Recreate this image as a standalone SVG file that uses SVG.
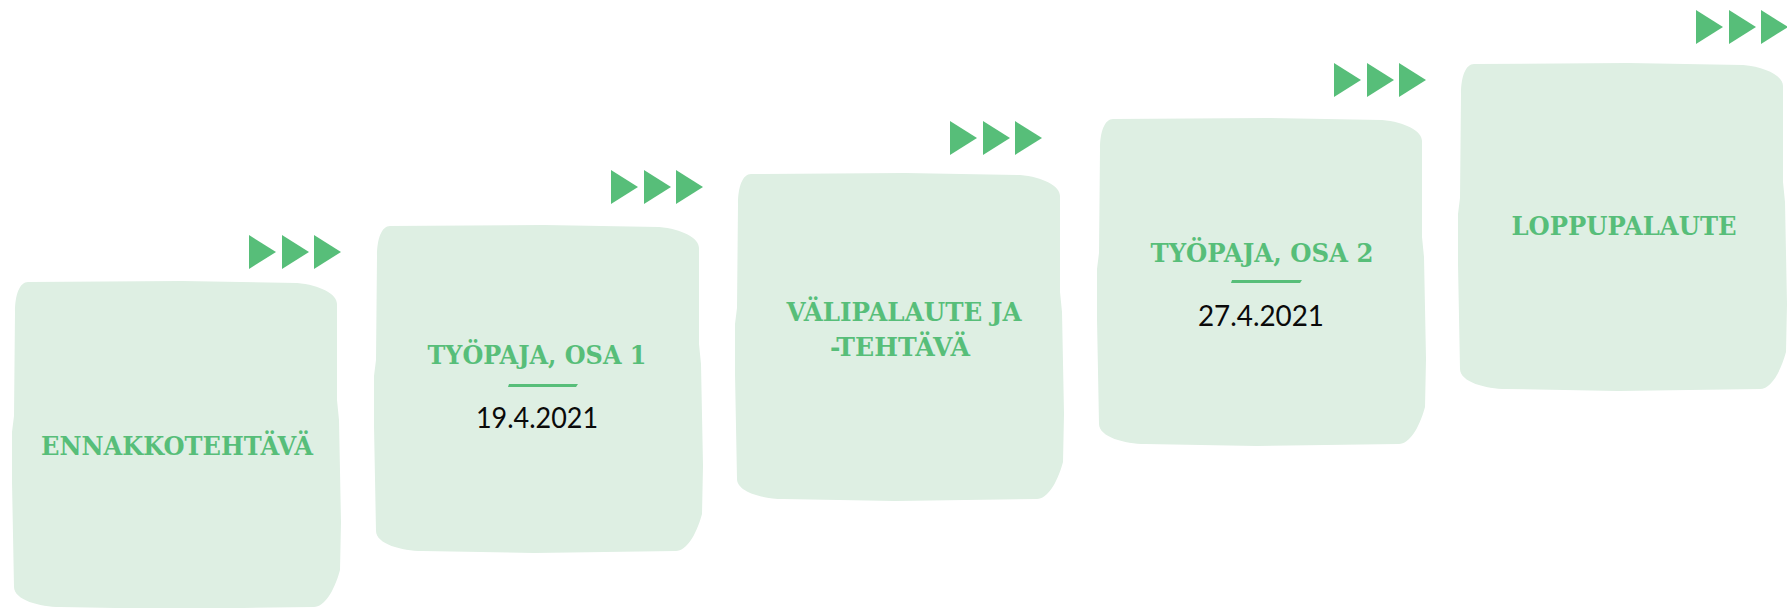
<svg xmlns="http://www.w3.org/2000/svg" xmlns:xlink="http://www.w3.org/1999/xlink" width="1787" height="608" viewBox="0 0 1787 608">
<style>
.box{fill:#deefe3}
.arrow{fill:#57be79}
.title{font-family:"DejaVu Serif","Liberation Serif",serif;font-weight:bold;font-size:26px;fill:#57be79;text-anchor:middle}
.date{font-family:Lato,"Open Sans",sans-serif;font-weight:400;font-size:28px;fill:#0a0a0a;text-anchor:middle}
.rule{fill:#57be79}
</style>
<defs>
<path id="blob" d="M16,0 L170,-1 L285,1 C308,3 325,12 325,22 L325,118 L327,138 L329,240 L328,288 C322,310 312,325 302,325 L160,327 L48,325 C28,325 2,318 2,305 L0,200 L0,150 L2,134 L3,30 C3,12 8,0 16,0 Z"/>
<polygon id="tri" points="0,0 27,17 0,34"/>
<g id="arrows">
<use xlink:href="#tri" x="0"/>
<use xlink:href="#tri" x="33"/>
<use xlink:href="#tri" x="65"/>
</g>
</defs>
<g id="connectors" class="arrow">
<use xlink:href="#arrows" x="249" y="235"/>
<use xlink:href="#arrows" x="611" y="170"/>
<use xlink:href="#arrows" x="950" y="121"/>
<use xlink:href="#arrows" x="1334" y="63"/>
<use xlink:href="#arrows" x="1696" y="10"/>
</g>
<g id="node1">
<use xlink:href="#blob" class="box" x="12" y="282"/>
<text class="title" x="177" y="455" textLength="272" lengthAdjust="spacingAndGlyphs">ENNAKKOTEHTÄVÄ</text>
</g>
<g id="node2">
<use xlink:href="#blob" class="box" x="374" y="226"/>
<text class="title" x="537" y="364" textLength="219" lengthAdjust="spacingAndGlyphs">TYÖPAJA, OSA 1</text>
<polygon class="rule" points="509,384 578,384 576,387 508,387"/>
<text class="date" x="537" y="428" textLength="122" lengthAdjust="spacingAndGlyphs">19.4.2021</text>
</g>
<g id="node3">
<use xlink:href="#blob" class="box" x="735" y="174"/>
<text class="title" x="904" y="321" textLength="235" lengthAdjust="spacingAndGlyphs">VÄLIPALAUTE JA</text>
<text class="title" x="900" y="356" textLength="140" lengthAdjust="spacingAndGlyphs">-TEHTÄVÄ</text>
</g>
<g id="node4">
<use xlink:href="#blob" class="box" x="1097" y="119"/>
<text class="title" x="1262" y="262" textLength="223" lengthAdjust="spacingAndGlyphs">TYÖPAJA, OSA 2</text>
<polygon class="rule" points="1232,280 1302,280 1300,283 1231,283"/>
<text class="date" x="1261" y="326" textLength="126" lengthAdjust="spacingAndGlyphs">27.4.2021</text>
</g>
<g id="node5">
<use xlink:href="#blob" class="box" x="1458" y="64"/>
<text class="title" x="1624" y="235" textLength="225" lengthAdjust="spacingAndGlyphs">LOPPUPALAUTE</text>
</g>
</svg>
